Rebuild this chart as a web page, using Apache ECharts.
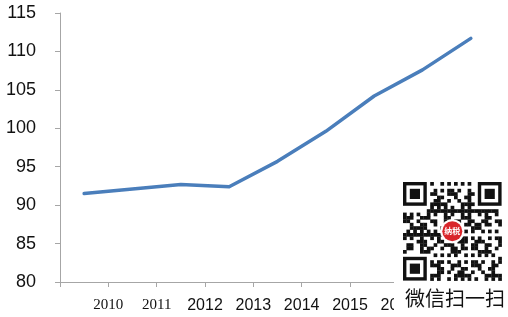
<!DOCTYPE html>
<html><head><meta charset="utf-8">
<script src="https://cdn.jsdelivr.net/npm/echarts@6/dist/echarts.min.js"></script>
<style>html,body{margin:0;padding:0;background:#fff}#c{width:508px;height:317px}</style>
</head><body><div id="c"></div>
<script>
// category slots (line drawn at slot centres), tick labels sit on slot boundaries
const slotValues = [91.5, 92.1, 92.7, 92.4, 95.7, 99.6, 104.2, 107.6, 111.7];
const tickLabels = ["", "2010", "2011", "2012", "2013", "2014", "2015", "2016", "2017", ""];
const serifLabels = ["2010", "2011"];
const yTicks = [80, 85, 90, 95, 100, 105, 110, 115];

const chart = echarts.init(document.getElementById('c'), null, {renderer: 'canvas'});

// decorative QR-like overlay
const qrX = 403, qrY = 182, qrN = 29, qrM = 3.4;
const qrChildren = [];
qrChildren.push({type: 'rect', shape: {x: 394, y: 172, width: 114, height: 145}, style: {fill: '#fff'}, z: 100});
function finder(cx, cy) {
  qrChildren.push({type: 'rect', shape: {x: cx, y: cy, width: 7 * qrM, height: 7 * qrM}, style: {fill: '#111'}, z: 101});
  qrChildren.push({type: 'rect', shape: {x: cx + qrM, y: cy + qrM, width: 5 * qrM, height: 5 * qrM}, style: {fill: '#fff'}, z: 102});
  qrChildren.push({type: 'rect', shape: {x: cx + 2 * qrM, y: cy + 2 * qrM, width: 3 * qrM, height: 3 * qrM}, style: {fill: '#111'}, z: 103});
}
for (let i = 0; i < qrN; i++) {
  for (let j = 0; j < qrN; j++) {
    const inFinder = (i < 8 && j < 8) || (i < 8 && j >= qrN - 8) || (i >= qrN - 8 && j < 8);
    if (inFinder) continue;
    const h = (i * 31 + j * 17 + ((i * j) % 7) * 5) % 11;
    if (h < 5) {
      qrChildren.push({type: 'rect', shape: {x: qrX + j * qrM, y: qrY + i * qrM, width: qrM + 0.3, height: qrM + 0.3}, style: {fill: '#111'}, z: 101});
    }
  }
}
finder(qrX, qrY);
finder(qrX + (qrN - 7) * qrM, qrY);
finder(qrX, qrY + (qrN - 7) * qrM);
qrChildren.push({type: 'circle', shape: {cx: qrX + qrN * qrM / 2, cy: qrY + qrN * qrM / 2, r: 12}, style: {fill: '#fff'}, z: 104});
qrChildren.push({type: 'circle', shape: {cx: qrX + qrN * qrM / 2, cy: qrY + qrN * qrM / 2, r: 10}, style: {fill: '#d9262b'}, z: 105});
qrChildren.push({type: 'text', x: qrX + qrN * qrM / 2, y: qrY + qrN * qrM / 2, style: {text: '纳税', fill: '#fff', font: 'bold 8px "Noto Sans CJK SC"', align: 'center', verticalAlign: 'middle'}, z: 106});
qrChildren.push({type: 'text', x: 455, y: 298, style: {text: '微信扫一扫', fill: '#111', font: '20px "Noto Sans CJK SC"', align: 'center', verticalAlign: 'middle'}, z: 106});

chart.setOption({
  animation: false,
  backgroundColor: '#fff',
  grid: {left: 60, top: 13, right: 13, bottom: 35},
  xAxis: {
    type: 'value', min: 0, max: tickLabels.length - 1, interval: 1,
    axisLine: {show: true, lineStyle: {color: '#a6a6a6', width: 1}},
    axisTick: {show: true, length: 5, lineStyle: {color: '#a6a6a6'}},
    splitLine: {show: false},
    axisLabel: {
      margin: 16,
      showMinLabel: true, showMaxLabel: true,
      formatter: v => {
        const t = tickLabels[Math.round(v)] || '';
        if (!t) return '';
        return serifLabels.includes(t) ? '{s|' + t + '}' : '{n|' + t + '}';
      },
      rich: {
        s: {fontFamily: '"Liberation Serif", serif', fontSize: 15, color: '#111'},
        n: {fontFamily: '"Liberation Sans", Arial, sans-serif', fontSize: 16, color: '#111'}
      }
    }
  },
  yAxis: {
    type: 'value', min: yTicks[0], max: yTicks[yTicks.length - 1], interval: 5,
    axisLine: {show: true, lineStyle: {color: '#a6a6a6', width: 1}},
    axisTick: {show: true, length: 5, lineStyle: {color: '#a6a6a6'}},
    splitLine: {show: false},
    axisLabel: {margin: 24, fontFamily: '"Liberation Sans", Arial, sans-serif', fontSize: 18, color: '#111'}
  },
  series: [{
    type: 'line',
    data: slotValues.map((v, i) => [i + 0.5, v]),
    showSymbol: false, symbol: 'none',
    lineStyle: {color: '#4a7ebb', width: 3.5, cap: 'round', join: 'round'}
  }],
  graphic: {elements: qrChildren}
});
</script></body></html>
